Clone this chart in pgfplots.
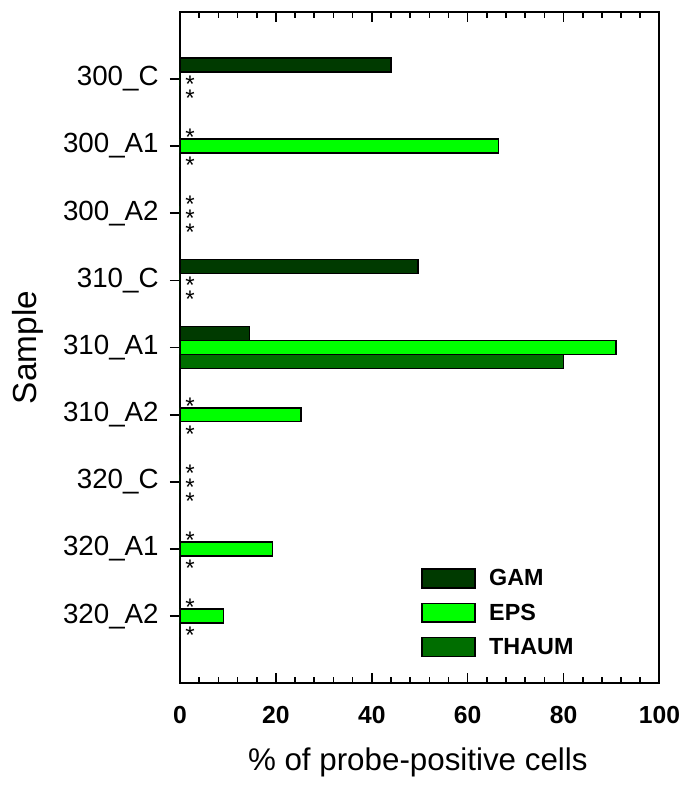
\documentclass[border=0pt]{standalone}
\usepackage{pgfplots}
\usepackage{pgfplotstable}
\pgfplotsset{compat=1.18}
\usepackage{fontspec}
\setmainfont{Liberation Sans}

\definecolor{gam}{RGB}{0,58,0}
\definecolor{eps}{RGB}{0,255,0}
\definecolor{thaum}{RGB}{0,110,0}

% percentage of probe-positive cells per sample; "*" marks samples with no signal
\pgfplotstableread{
pos gam  gaml eps  epsl thaum thauml
0   44.0 {}   0    *    0     *
1   0    *    66.4 {}   0     *
2   0    *    0    *    0     *
3   49.7 {}   0    *    0     *
4   14.5 {}   90.9 {}   80.0  {}
5   0    *    25.2 {}   0     *
6   0    *    0    *    0     *
7   0    *    19.3 {}   0     *
8   0    *    9.1  {}   0     *
}\samples

\begin{document}
\begin{tikzpicture}
\begin{axis}[
  width=359.6pt, height=503.7pt, scale only axis,
  xmin=0, xmax=100, ymin=-1, ymax=9, y dir=reverse,
  xbar, bar width=0.208,
  axis line style={line width=1.5pt},
  tick style={line width=1.2pt, black},
  xtick={0,20,...,100}, minor x tick num=4,
  xtick pos=both, xticklabel pos=lower,
  ytick pos=left,
  tick align=inside, ytick align=outside,
  major tick length=7.5pt, minor tick length=4.5pt,
  ytick={0,...,8},
  yticklabels={300\_C,300\_A1,300\_A2,310\_C,310\_A1,310\_A2,320\_C,320\_A1,320\_A2},
  /pgf/number format/assume math mode=true,
  xticklabel style={font=\bfseries\fontsize{18.5}{18.5}\selectfont, yshift=-14pt},
  yticklabel style={font=\fontsize{20.8}{20.8}\selectfont, xshift=-5pt},
  xlabel={\% of probe-positive cells},
  ylabel={Sample},
  xlabel style={font=\fontsize{23.5}{23.5}\selectfont, at={(axis description cs:0.496,-0.1175)}, anchor=center},
  ylabel style={font=\fontsize{25}{25}\selectfont, at={(axis description cs:-0.317,0.5)}, anchor=center},
  legend style={at={(axis description cs:0.502,0.174)}, anchor=north west,
    draw=none, fill=none, inner sep=0pt, row sep=8pt, column sep=8pt,
    font=\bfseries\fontsize{17.5}{17.5}\selectfont},
  legend cell align=left,
  legend image code/.code={\draw[#1, line width=1.2pt] (0pt,-7pt) rectangle (40pt,7pt);},
  point meta=explicit symbolic,
  nodes near coords, nodes near coords align={horizontal},
  every node near coord/.append style={font=\fontsize{18}{18}\selectfont, anchor=west, inner sep=0pt, xshift=3.5pt, yshift=-4pt, black},
]
\addplot[fill=gam, draw=black, line width=1.2pt, bar shift=-0.208]
  table[x=gam, y=pos, meta=gaml] {\samples};
\addplot[fill=eps, draw=black, line width=1.2pt, bar shift=0]
  table[x=eps, y=pos, meta=epsl] {\samples};
\addplot[fill=thaum, draw=black, line width=1.2pt, bar shift=0.208]
  table[x=thaum, y=pos, meta=thauml] {\samples};
\legend{GAM, EPS, THAUM}
\end{axis}
\pgfresetboundingbox
\path ([shift={(-135pt,-77pt)}]current axis.south west) rectangle ++(513.75pt,589.5pt);
\end{tikzpicture}
\end{document}
